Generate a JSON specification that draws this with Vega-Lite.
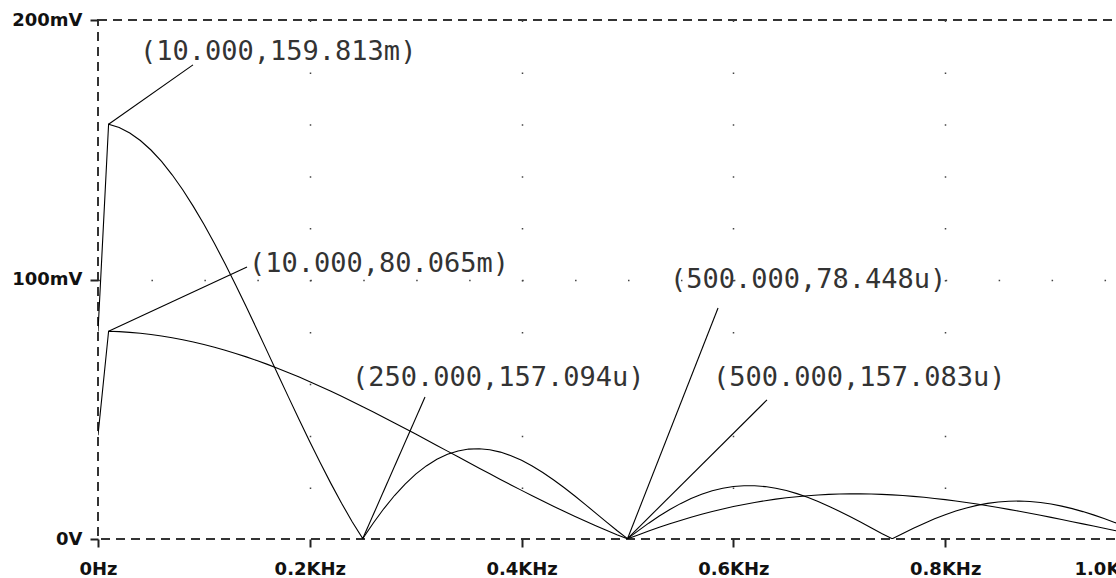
{
  "$schema": "https://vega.github.io/schema/vega-lite/v6.json",
  "width": 1059,
  "height": 519,
  "autosize": {"type": "none"},
  "padding": {"left": 98, "top": 20, "right": -41, "bottom": 39},
  "background": "white",
  "config": {
    "view": {"stroke": "#333333", "strokeWidth": 2, "strokeDash": [9, 6]}
  },
  "datasets": {
    "curves": [
      {"f":0,"A":80,"B":40},{"f":10,"A":159.81,"B":80.07},{"f":20,"A":158.55,"B":79.91},{"f":30,"A":156.46,"B":79.64},{"f":40,"A":153.57,"B":79.28},
      {"f":50,"A":149.9,"B":78.81},{"f":60,"A":145.48,"B":78.23},{"f":70,"A":140.35,"B":77.56},{"f":80,"A":134.58,"B":76.79},{"f":90,"A":128.19,"B":75.92},
      {"f":100,"A":121.27,"B":74.95},{"f":110,"A":113.87,"B":73.89},{"f":120,"A":106.05,"B":72.74},{"f":130,"A":97.89,"B":71.5},{"f":140,"A":89.47,"B":70.18},
      {"f":150,"A":80.85,"B":68.77},{"f":160,"A":72.11,"B":67.29},{"f":170,"A":63.33,"B":65.73},{"f":180,"A":54.58,"B":64.1},{"f":190,"A":45.94,"B":62.4},
      {"f":200,"A":37.47,"B":60.64},{"f":210,"A":29.25,"B":58.81},{"f":220,"A":21.34,"B":56.93},{"f":230,"A":13.79,"B":55.0},{"f":240,"A":6.66,"B":53.03},
      {"f":250,"A":0.16,"B":51.0},{"f":260,"A":6.15,"B":48.95},{"f":270,"A":11.74,"B":46.85},{"f":280,"A":16.76,"B":44.73},{"f":290,"A":21.18,"B":42.59},
      {"f":300,"A":24.98,"B":40.42},{"f":310,"A":28.16,"B":38.24},{"f":320,"A":30.7,"B":36.06},{"f":330,"A":32.62,"B":33.86},{"f":340,"A":33.93,"B":31.67},
      {"f":350,"A":34.65,"B":29.47},{"f":360,"A":34.79,"B":27.29},{"f":370,"A":34.39,"B":25.12},{"f":380,"A":33.49,"B":22.97},{"f":390,"A":32.12,"B":20.84},
      {"f":400,"A":30.32,"B":18.74},{"f":410,"A":28.14,"B":16.66},{"f":420,"A":25.63,"B":14.63},{"f":430,"A":22.85,"B":12.63},{"f":440,"A":19.84,"B":10.67},
      {"f":450,"A":16.66,"B":8.76},{"f":460,"A":13.35,"B":6.89},{"f":470,"A":9.99,"B":5.08},{"f":480,"A":6.61,"B":3.33},{"f":490,"A":3.26,"B":1.63},
      {"f":500,"A":0.16,"B":0.08},{"f":510,"A":3.13,"B":1.57},{"f":520,"A":6.1,"B":3.07},{"f":530,"A":8.86,"B":4.51},{"f":540,"A":11.38,"B":5.87},
      {"f":550,"A":13.63,"B":7.16},{"f":560,"A":15.59,"B":8.38},{"f":570,"A":17.24,"B":9.52},{"f":580,"A":18.56,"B":10.59},{"f":590,"A":19.56,"B":11.58},
      {"f":600,"A":20.21,"B":12.49},{"f":610,"A":20.53,"B":13.32},{"f":620,"A":20.53,"B":14.08},{"f":630,"A":20.2,"B":14.75},{"f":640,"A":19.57,"B":15.35},
      {"f":650,"A":18.66,"B":15.87},{"f":660,"A":17.48,"B":16.31},{"f":670,"A":16.07,"B":16.68},{"f":680,"A":14.45,"B":16.97},{"f":690,"A":12.65,"B":17.18},
      {"f":700,"A":10.71,"B":17.32},{"f":710,"A":8.65,"B":17.4},{"f":720,"A":6.52,"B":17.4},{"f":730,"A":4.34,"B":17.33},{"f":740,"A":2.16,"B":17.2},
      {"f":750,"A":0.1,"B":17.0},{"f":760,"A":2.1,"B":16.74},{"f":770,"A":4.12,"B":16.43},{"f":780,"A":6.02,"B":16.06},{"f":790,"A":7.78,"B":15.63},
      {"f":800,"A":9.37,"B":15.16},{"f":810,"A":10.78,"B":14.64},{"f":820,"A":11.98,"B":14.07},{"f":830,"A":12.97,"B":13.46},{"f":840,"A":13.74,"B":12.82},
      {"f":850,"A":14.27,"B":12.14},{"f":860,"A":14.56,"B":11.42},{"f":870,"A":14.63,"B":10.68},{"f":880,"A":14.46,"B":9.92},{"f":890,"A":14.07,"B":9.13},
      {"f":900,"A":13.47,"B":8.33},{"f":910,"A":12.68,"B":7.51},{"f":920,"A":11.7,"B":6.68},{"f":930,"A":10.56,"B":5.84},{"f":940,"A":9.29,"B":4.99},
      {"f":950,"A":7.89,"B":4.15},{"f":960,"A":6.4,"B":3.3},{"f":970,"A":4.84,"B":2.46},{"f":980,"A":3.24,"B":1.63},{"f":990,"A":1.61,"B":0.81},
      {"f":1000,"A":0.1,"B":0.05}
    ],
    "notes": [
      {"px":10,"py":159.813,"lx":89.7,"ly":182.7,"tx":39.7,"ty":184.6,"label":"(10.000,159.813m)"},
      {"px":10,"py":80.065,"lx":140.7,"ly":104.8,"tx":142.6,"ty":102.9,"label":"(10.000,80.065m)"},
      {"px":250,"py":0.157,"lx":308.8,"ly":54.7,"tx":239.8,"ty":59.0,"label":"(250.000,157.094u)"},
      {"px":500,"py":0.078,"lx":585.5,"ly":89.0,"tx":540.1,"ty":96.7,"label":"(500.000,78.448u)"},
      {"px":500,"py":0.157,"lx":631.7,"ly":53.6,"tx":580.7,"ty":59.0,"label":"(500.000,157.083u)"}
    ]
  },
  "layer": [
    {
      "data": {"name": "curves"},
      "transform": [{"fold": ["A", "B"], "as": ["s", "v"]}],
      "mark": {"type": "line", "color": "#000000", "strokeWidth": 1.1, "clip": true},
      "encoding": {
        "x": {
          "field": "f", "type": "quantitative",
          "scale": {"domain": [0, 1000], "nice": false, "zero": true},
          "axis": {
            "values": [0, 200, 400, 600, 800, 1000],
            "title": null,
            "domain": false,
            "ticks": true,
            "tickColor": "#222222", "tickWidth": 2, "tickSize": 8,
            "labelFont": "DejaVu Sans", "labelFontWeight": "bold", "labelFontSize": 18, "labelColor": "#111111",
            "labelPadding": 13,
            "labelExpr": "datum.value == 0 ? '0Hz' : format(datum.value/1000, '.1f') + 'KHz'",
            "labelAlign": {"condition": {"test": "datum.value >= 1000", "value": "left"}, "value": "center"},
            "labelOffset": {"condition": {"test": "datum.value >= 1000", "value": -83}, "value": 0},
            "labelOverlap": false, "labelBound": false, "labelFlush": false,
            "grid": true,
            "gridDash": [1.5, 50.4],
            "gridColor": "#444444",
            "gridWidth": 1.5,
            "gridOpacity": {"condition": {"test": "datum.value == 0", "value": 0}, "value": 1}
          }
        },
        "y": {
          "field": "v", "type": "quantitative",
          "scale": {"domain": [0, 200], "nice": false, "zero": true},
          "axis": {
            "values": [0, 100, 200],
            "title": null,
            "domain": false,
            "tickColor": "#222222", "tickWidth": 2, "tickSize": 8,
            "labelFont": "DejaVu Sans", "labelFontWeight": "bold", "labelFontSize": 18, "labelColor": "#111111",
            "labelPadding": 8,
            "labelExpr": "datum.value == 0 ? '0V' : datum.value + 'mV'",
            "labelOverlap": false, "labelBound": false, "labelFlush": false,
            "grid": true,
            "gridDash": [1.5, 51.45],
            "gridColor": "#444444",
            "gridWidth": 1.5,
            "gridOpacity": {"condition": {"test": "datum.value == 100", "value": 1}, "value": 0}
          }
        },
        "detail": {"field": "s", "type": "nominal"}
      }
    },
    {
      "data": {"name": "notes"},
      "mark": {"type": "rule", "color": "#000000", "strokeWidth": 1.1},
      "encoding": {
        "x": {"field": "px", "type": "quantitative"},
        "y": {"field": "py", "type": "quantitative"},
        "x2": {"field": "lx"},
        "y2": {"field": "ly"}
      }
    },
    {
      "data": {"name": "notes"},
      "mark": {"type": "text", "align": "left", "baseline": "alphabetic", "font": "DejaVu Sans Mono", "fontSize": 27, "color": "#333333"},
      "encoding": {
        "x": {"field": "tx", "type": "quantitative"},
        "y": {"field": "ty", "type": "quantitative"},
        "text": {"field": "label"}
      }
    }
  ]
}
